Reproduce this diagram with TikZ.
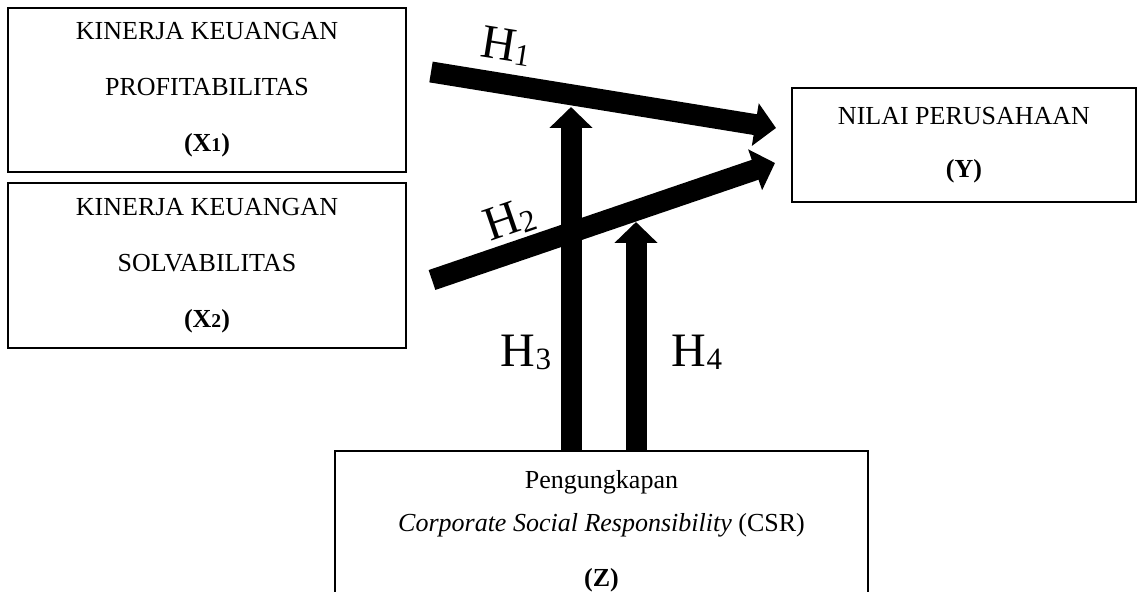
\documentclass[tikz,border=0pt]{standalone}
\usepackage{fontspec}
\setmainfont{Liberation Serif}
\usetikzlibrary{arrows.meta,positioning,calc}
\newcommand{\hsub}[1]{\raisebox{-1.5pt}{\fontsize{15.5}{15.5}\selectfont #1}}
\newcommand{\vsub}[1]{{\fontsize{9.8}{9.8}\selectfont #1}}

\begin{document}
\begin{tikzpicture}[
    x=0.5pt, y=-0.5pt,
    varbox/.style={draw, line width=0.8pt, align=center, inner sep=0pt,
                   font=\fontsize{13}{28}\selectfont},
    hyp/.style={line width=10.5pt, -{Triangle[width=21pt,length=10.5pt]}},
    hlbl/.style={font=\fontsize{24}{24}\selectfont, inner sep=0pt}
  ]
  \useasboundingbox (0,0) rectangle (1144,592);

  % variables
  \node[varbox, minimum width=199pt, minimum height=82pt] (x1) at (207,90)
    {KINERJA KEUANGAN\\PROFITABILITAS\\\textbf{(X\vsub{1})}};
  \node[varbox, minimum width=199pt, minimum height=82.5pt] (x2) at (207,265.5)
    {KINERJA KEUANGAN\\SOLVABILITAS\\\textbf{(X\vsub{2})}};
  \node[varbox, minimum width=172pt, minimum height=57pt,
        font=\fontsize{13}{26.5}\selectfont] (y) at (964,145)
    {NILAI PERUSAHAAN\\\textbf{(Y)}};
  \node[varbox, minimum width=266.5pt, minimum height=80pt, anchor=north,
        font=\fontsize{13}{21.5}\selectfont] (z) at (601.5,450)
    {Pengungkapan\\\textit{Corporate Social Responsibility} (CSR)\\[6pt]\textbf{(Z)}};

  % arrow ends
  \coordinate (h1a) at (431,72);
  \coordinate (h1b) at (776,128);
  \coordinate (h2a) at (432,280);
  \coordinate (h2b) at (775,163);
  \coordinate (h3b) at (571,107);
  \coordinate (h4b) at (636,222);

  \draw[hyp] (h3b |- z.north) -- (h3b);
  \draw[hyp] (h4b |- z.north) -- (h4b);
  \draw[hyp] (h1a) -- (h1b);
  \draw[hyp] (h2a) -- (h2b);

  % hypothesis labels
  \node[hlbl, rotate=-9] (l1) at (506,46) {H\hsub{1}};
  \node[hlbl, rotate=19] (l2) at (510,220) {H\hsub{2}};
  \node[hlbl] (l3) at (526,352) {H\hsub{3}};
  \node[hlbl] (l4) at (697,352) {H\hsub{4}};
\end{tikzpicture}
\end{document}
